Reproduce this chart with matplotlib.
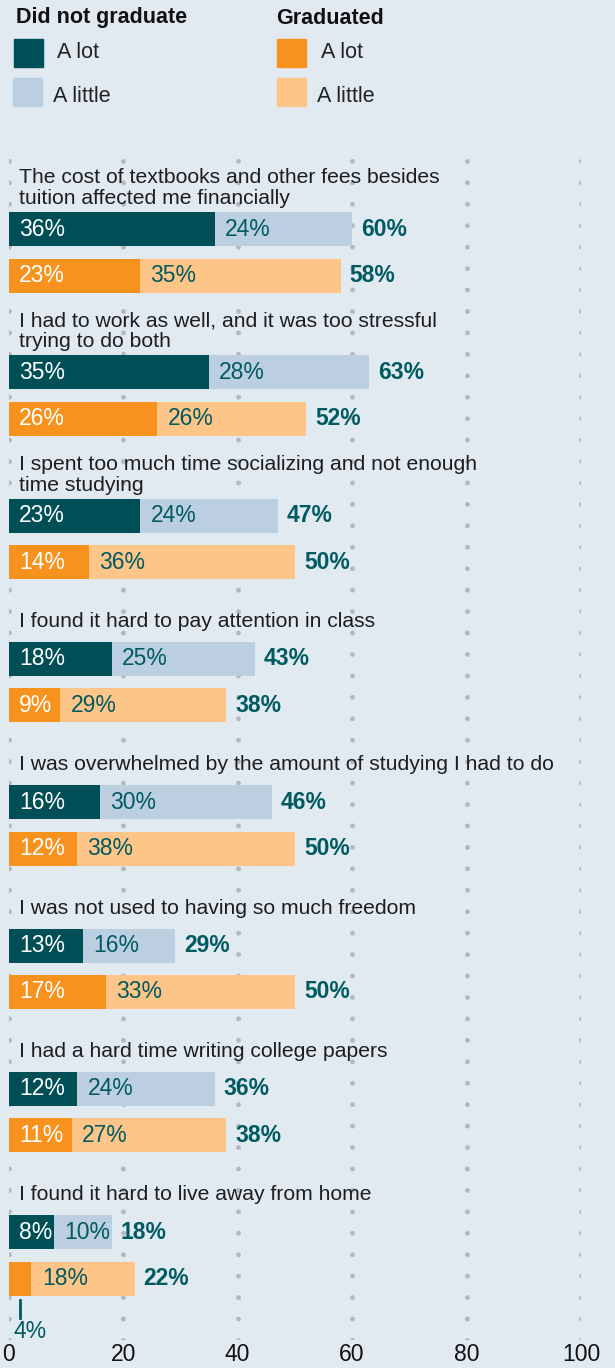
import matplotlib.pyplot as plt
from matplotlib.patches import Rectangle

questions = [
    "The cost of textbooks and other fees besides\ntuition affected me financially",
    "I had to work as well, and it was too stressful\ntrying to do both",
    "I spent too much time socializing and not enough\ntime studying",
    "I found it hard to pay attention in class",
    "I was overwhelmed by the amount of studying I had to do",
    "I was not used to having so much freedom",
    "I had a hard time writing college papers",
    "I found it hard to live away from home",
]
not_grad_lot = [36, 35, 23, 18, 16, 13, 12, 8]
not_grad_little = [24, 28, 24, 25, 30, 16, 24, 10]
grad_lot = [23, 26, 14, 9, 12, 17, 11, 4]
grad_little = [35, 26, 36, 29, 38, 33, 27, 18]
ticks = [0, 20, 40, 60, 80, 100]

BG = "#e1e9f1"
DARK = "#004f56"
LIGHT = "#bccfe0"
ORANGE = "#f7921e"
PALE = "#fec589"
TEAL = "#005a60"
DOT = "#b4b8bc"
FONT = ["Liberation Sans", "DejaVu Sans"]
plt.rcParams["font.family"] = FONT

W, H = 615, 1368
fig = plt.figure(figsize=(W / 100, H / 100), dpi=100, facecolor=BG)

# main axes, y in pixel-like units (inverted)
top_px, bot_px = 150, 1340
ax = fig.add_axes([8.6 / W, 1 - bot_px / H, (581 - 8.6) / W, (bot_px - top_px) / H])
ax.set_facecolor(BG)
ax.set_xlim(0, 100)
ax.set_ylim(bot_px, top_px)

step = 143.3
gap = 46.5
bar_h = 34
first = 229

for i, q in enumerate(questions):
    y_dark = first + step * i
    y_or = y_dark + gap
    rows = [
        (y_dark, not_grad_lot[i], not_grad_little[i], DARK, LIGHT),
        (y_or, grad_lot[i], grad_little[i], ORANGE, PALE),
    ]
    for y, lot, little, c1, c2 in rows:
        ax.barh(y, lot, height=bar_h, color=c1, zorder=2)
        ax.barh(y, little, left=lot, height=bar_h, color=c2, zorder=2)
        if lot >= 6:
            ax.text(1.8, y, f"{lot}%", color="white", va="center", ha="left",
                    fontsize=16.5, zorder=3)
        else:
            # small segment: label below with a leader line
            ax.plot([lot / 2, lot / 2], [y + bar_h / 2 + 4, y + bar_h / 2 + 22],
                    color=TEAL, lw=2, zorder=3)
            ax.text(0.8, y + bar_h / 2 + 36, f"{lot}%", color=TEAL, va="center",
                    ha="left", fontsize=16.5, zorder=3)
        ax.text(lot + 1.8, y, f"{little}%", color=TEAL, va="center", ha="left",
                fontsize=16.5, zorder=3)
        ax.text(lot + little + 1.6, y, f"{lot + little}%", color=TEAL, va="center",
                ha="left", fontsize=16.5, fontweight="bold", zorder=3)
    lift = 4 if "\n" in q else 11
    ax.text(1.8, y_dark - bar_h / 2 - lift, q, va="bottom", ha="left",
            fontsize=15.2, color="#1e1e1e", linespacing=1.12, zorder=3)

ax.set_xticks(ticks)
ax.set_xticklabels([str(t) for t in ticks], fontsize=16.5, color="#111111")
ax.set_yticks([])
ax.tick_params(axis="x", length=0, pad=2.5)
for s in ax.spines.values():
    s.set_visible(False)
ax.grid(axis="x", color=DOT, linewidth=3.5, linestyle=(0, (0.01, 4.4)),
        dash_capstyle="round")
ax.set_axisbelow(True)

# legend drawn in figure pixel space
lg = fig.add_axes([0, 0, 1, 1])
lg.set_xlim(0, W)
lg.set_ylim(H, 0)
lg.axis("off")
lg.text(16, 18, "Did not graduate", fontsize=15.5, fontweight="bold",
        va="center", color="#111111")
lg.text(276, 18, "Graduated", fontsize=15.5, fontweight="bold",
        va="center", color="#111111")
legend_items = [
    (14, 39, DARK, 57, 53, "A lot"),
    (13, 78, LIGHT, 53, 96, "A little"),
    (277, 39, ORANGE, 321, 53, "A lot"),
    (277, 78, PALE, 317, 96, "A little"),
]
for x, y, c, tx, ty, label in legend_items:
    lg.add_patch(Rectangle((x, y), 29, 28, color=c))
    lg.text(tx, ty, label, fontsize=15.5, va="center", color="#222222")

fig.savefig("out.png", dpi=100, facecolor=BG)
